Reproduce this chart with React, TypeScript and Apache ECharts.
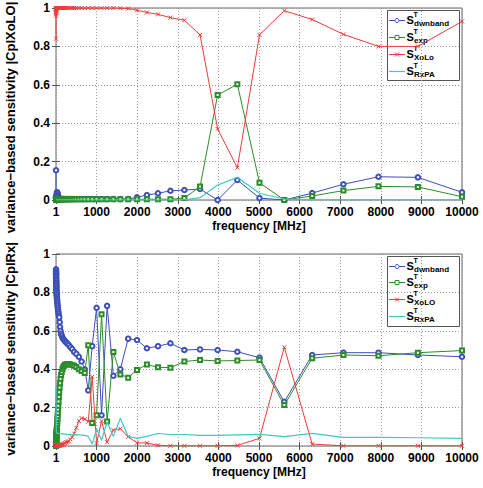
import React, { useEffect, useRef } from "react";
import * as echarts from "echarts";

// Frequencies [MHz] of the sweep
const freq = [
  1, 1.122, 1.259, 1.413, 1.585, 1.778, 1.995, 2.239, 2.512, 2.818,
  3.162, 3.548, 3.981, 4.467, 5.012, 5.623, 6.31, 7.079, 7.943, 8.913,
  10, 11.22, 12.59, 14.13, 15.85, 17.78, 19.95, 22.39, 25.12, 28.18,
  31.62, 35.48, 39.81, 44.67, 50.12, 56.23, 63.1, 70.79, 79.43, 89.13,
  100, 112.2, 125.9, 141.3, 158.5, 177.8, 199.5, 223.9, 251.2, 281.8,
  316.2, 354.8, 398.1, 446.7, 501.2, 562.3, 631, 707.9, 794.3, 891.3,
  1000, 1122, 1259, 1413, 1585, 1778, 1995, 2239, 2512, 2818,
  3162, 3548, 3981, 4467, 5012, 5623, 6310, 7079, 7943, 8913,
  10000,
];

// ---- Top panel: |CplXoLO|
const topDwnband = [
  0.155, 0.02, 0.015, 0.012, 0.012, 0.011, 0.011, 0.01, 0.01, 0.01,
  0.01, 0.01, 0.01, 0.01, 0.01, 0.01, 0.01, 0.01, 0.01, 0.01,
  0.01, 0.01, 0.012, 0.015, 0.02, 0.025, 0.03, 0.04, 0.035, 0.04,
  0.032, 0.036, 0.028, 0.026, 0.02, 0.015, 0.012, 0.01, 0.008, 0.007,
  0.006, 0.006, 0.005, 0.005, 0.005, 0.005, 0.005, 0.005, 0.005, 0.005,
  0.005, 0.005, 0.005, 0.005, 0.005, 0.005, 0.005, 0.005, 0.005, 0.005,
  0.005, 0.005, 0.005, 0.005, 0.005, 0.005, 0.014, 0.026, 0.035, 0.048,
  0.052, 0.057, 0.0, 0.104, 0.01, 0.0, 0.036, 0.082, 0.121, 0.118,
  0.04,
];
const topExp = [
  0.004, 0.004, 0.004, 0.004, 0.004, 0.004, 0.004, 0.004, 0.004, 0.004,
  0.004, 0.004, 0.004, 0.004, 0.004, 0.004, 0.004, 0.004, 0.004, 0.004,
  0.004, 0.004, 0.004, 0.004, 0.004, 0.004, 0.004, 0.004, 0.004, 0.004,
  0.004, 0.004, 0.004, 0.004, 0.004, 0.004, 0.004, 0.004, 0.004, 0.004,
  0.004, 0.004, 0.004, 0.004, 0.004, 0.004, 0.004, 0.004, 0.004, 0.004,
  0.004, 0.004, 0.004, 0.004, 0.004, 0.004, 0.004, 0.004, 0.004, 0.004,
  0.004, 0.004, 0.004, 0.004, 0.004, 0.004, 0.004, 0.004, 0.004, 0.004,
  0.01, 0.07, 0.547, 0.603, 0.09, 0.0, 0.021, 0.049, 0.071, 0.068,
  0.017,
];
const topXoLo = [
  0.84, 0.97, 0.96, 0.98, 0.975, 0.99, 0.985, 0.99, 0.995, 0.995,
  0.997, 0.998, 0.999, 1, 1, 1, 1, 1, 1, 1,
  1, 1, 1, 1, 1, 1, 1, 1, 1, 1,
  1, 1, 1, 1, 1, 1, 1, 1, 1, 1,
  1, 1, 1, 1, 1, 1, 1, 1, 1, 1,
  1, 1, 1, 1, 1, 1, 1, 1, 1, 1,
  1, 1, 1, 1, 0.999, 0.997, 0.988, 0.977, 0.967, 0.95,
  0.936, 0.86, 0.37, 0.168, 0.86, 0.986, 0.94, 0.863, 0.8, 0.8,
  0.93,
];
const topRxPA = [
  0.001, 0.001, 0.001, 0.001, 0.001, 0.001, 0.001, 0.001, 0.001, 0.001,
  0.001, 0.001, 0.001, 0.001, 0.001, 0.001, 0.001, 0.001, 0.001, 0.001,
  0.001, 0.001, 0.001, 0.001, 0.001, 0.001, 0.001, 0.001, 0.001, 0.001,
  0.001, 0.001, 0.001, 0.001, 0.001, 0.001, 0.001, 0.001, 0.001, 0.001,
  0.001, 0.001, 0.001, 0.001, 0.001, 0.001, 0.001, 0.001, 0.001, 0.001,
  0.001, 0.001, 0.001, 0.001, 0.001, 0.001, 0.001, 0.001, 0.001, 0.001,
  0.001, 0.001, 0.001, 0.001, 0.001, 0.001, 0.001, 0.001, 0.001, 0.001,
  0.001, 0.012, 0.078, 0.118, 0.035, 0.005, 0.002, 0.001, 0.001, 0.001,
  0.001,
];

// ---- Bottom panel: |CplRx|
const botDwnband = [
  0.9, 0.91, 0.92, 0.91, 0.9, 0.9, 0.89, 0.89, 0.88, 0.88,
  0.87, 0.87, 0.86, 0.86, 0.85, 0.85, 0.84, 0.84, 0.83, 0.83,
  0.82, 0.81, 0.81, 0.8, 0.79, 0.79, 0.78, 0.77, 0.76, 0.76,
  0.75, 0.74, 0.73, 0.72, 0.71, 0.7, 0.69, 0.68, 0.67, 0.645,
  0.62, 0.6, 0.585, 0.575, 0.565, 0.558, 0.552, 0.545, 0.54, 0.533,
  0.526, 0.515, 0.505, 0.49, 0.48, 0.465, 0.44, 0.4, 0.29, 0.52,
  0.72, 0.16, 0.73, 0.366, 0.4, 0.559, 0.552, 0.509, 0.52, 0.535,
  0.5, 0.503, 0.5, 0.491, 0.46, 0.23, 0.474, 0.486, 0.486, 0.474,
  0.465,
];
const botExp = [
  0.0, 0.002, 0.004, 0.006, 0.008, 0.01, 0.012, 0.014, 0.016, 0.018,
  0.02, 0.022, 0.024, 0.027, 0.03, 0.033, 0.036, 0.04, 0.044, 0.048,
  0.052, 0.057, 0.062, 0.068, 0.074, 0.08, 0.087, 0.095, 0.104, 0.115,
  0.127, 0.14, 0.155, 0.172, 0.19, 0.21, 0.232, 0.255, 0.28, 0.305,
  0.327, 0.35, 0.37, 0.385, 0.4, 0.41, 0.418, 0.423, 0.426, 0.427,
  0.427, 0.425, 0.422, 0.418, 0.412, 0.4, 0.39, 0.38, 0.525, 0.12,
  0.16, 0.686, 0.127, 0.49, 0.373, 0.356, 0.396, 0.425, 0.41, 0.408,
  0.44, 0.448, 0.443, 0.445, 0.448, 0.213, 0.457, 0.474, 0.47, 0.486,
  0.497,
];
const botXoLO = [
  0.003, 0.003, 0.003, 0.003, 0.003, 0.003, 0.003, 0.003, 0.003, 0.003,
  0.003, 0.003, 0.003, 0.003, 0.003, 0.003, 0.003, 0.003, 0.003, 0.003,
  0.003, 0.003, 0.003, 0.003, 0.003, 0.003, 0.003, 0.003, 0.003, 0.003,
  0.003, 0.003, 0.003, 0.003, 0.003, 0.003, 0.003, 0.003, 0.003, 0.003,
  0.004, 0.005, 0.006, 0.007, 0.008, 0.01, 0.012, 0.015, 0.02, 0.022,
  0.025, 0.035, 0.045, 0.065, 0.095, 0.13, 0.145, 0.14, 0.127, 0.36,
  0.015, 0.13, 0.02, 0.083, 0.09, 0.048, 0.017, 0.015, 0.004, 0.001,
  0.001, 0.001, 0.001, 0.003, 0.04, 0.514, 0.01, 0.001, 0.001, 0.001,
  0.001,
];
const botRxPA = [
  0.31, 0.3, 0.29, 0.28, 0.27, 0.255, 0.24, 0.225, 0.21, 0.195,
  0.18, 0.165, 0.15, 0.135, 0.12, 0.11, 0.1, 0.09, 0.085, 0.08,
  0.075, 0.072, 0.07, 0.069, 0.068, 0.067, 0.067, 0.066, 0.066, 0.066,
  0.066, 0.066, 0.066, 0.066, 0.066, 0.066, 0.066, 0.066, 0.065, 0.065,
  0.065, 0.065, 0.064, 0.064, 0.063, 0.063, 0.062, 0.062, 0.061, 0.061,
  0.06, 0.06, 0.059, 0.059, 0.058, 0.058, 0.057, 0.055, 0.05, 0.01,
  0.09, 0.03, 0.125, 0.05, 0.145, 0.05, 0.04, 0.05, 0.065, 0.06,
  0.06, 0.055, 0.055, 0.058, 0.061, 0.049, 0.066, 0.045, 0.045, 0.043,
  0.04,
];

const xTicks = [1, 1000, 2000, 3000, 4000, 5000, 6000, 7000, 8000, 9000, 10000];
const yTicks = [0, 0.2, 0.4, 0.6, 0.8, 1];
const topLegendSubs = ["dwnband", "exp", "XoLo", "RxPA"];
const botLegendSubs = ["dwnband", "exp", "XoLO", "RxPA"];
const xTitle = "frequency [MHz]";
const topYTitle = "variance\u2212based sensitivity |CplXoLO|";
const botYTitle = "variance\u2212based sensitivity |CplRx|";

const BLUE = "#3d4fb8";
const GREEN = "#2b8c2b";
const RED = "#ee3b3b";
const CYAN = "#3ec9c9";
const COLORS = [BLUE, GREEN, RED, CYAN];
const FONT = "'Liberation Sans', Arial, Helvetica, sans-serif";
const CROSS = "path://M0 0L10 10M10 0L0 10";

const GRID_LEFT = 56;
const GRID_W = 406;
const GRID_H = 192;
const TOP1 = 8;
const TOP2 = 254;

function pairs(ys: number[]) {
  return freq.map((f, i) => [f, ys[i]]);
}

function xAxes(gridIndex: number) {
  const base = {
    gridIndex,
    type: "value" as const,
    min: 0,
    max: 10000,
    interval: 1000,
  };
  return [
    {
      ...base,
      position: "bottom",
      axisLine: { show: false },
      axisTick: { show: true, inside: true, length: 4, lineStyle: { color: "#555" } },
      axisLabel: {
        formatter: (v: number) => (v === 0 ? String(xTicks[0]) : String(v)),
        fontWeight: "bold",
        fontSize: 12,
        fontFamily: FONT,
        color: "#000",
        margin: 6,
      },
      splitLine: { show: true, lineStyle: { type: [1, 2], color: "#9a9a9a", width: 1 } },
      name: xTitle,
      nameLocation: "middle",
      nameGap: 20,
      nameTextStyle: { fontWeight: "bold", fontSize: 12, fontFamily: FONT, color: "#000" },
    },
    {
      ...base,
      position: "top",
      axisLine: { show: false },
      axisTick: { show: true, inside: true, length: 4, lineStyle: { color: "#555" } },
      axisLabel: { show: false },
      splitLine: { show: false },
    },
  ];
}

function yAxes(gridIndex: number) {
  const base = {
    gridIndex,
    type: "value" as const,
    min: yTicks[0],
    max: yTicks[yTicks.length - 1],
    interval: 0.2,
  };
  return [
    {
      ...base,
      position: "left",
      axisLine: { show: false },
      axisTick: { show: true, inside: true, length: 4, lineStyle: { color: "#555" } },
      axisLabel: {
        fontWeight: "bold",
        fontSize: 12,
        fontFamily: FONT,
        color: "#000",
        margin: 6,
        formatter: (v: number) => String(Math.round(v * 10) / 10),
      },
      splitLine: { show: true, lineStyle: { type: [1, 2], color: "#9a9a9a", width: 1 } },
    },
    {
      ...base,
      position: "right",
      axisLine: { show: false },
      axisTick: { show: true, inside: true, length: 4, lineStyle: { color: "#555" } },
      axisLabel: { show: false },
      splitLine: { show: false },
    },
  ];
}

function makeSeries(xi: number, yi: number, data: number[][], idx: number, name: string) {
  const color = COLORS[idx];
  const common: any = {
    type: "line",
    name,
    xAxisIndex: xi,
    yAxisIndex: yi,
    data,
    lineStyle: { color, width: 1 },
    itemStyle: { color },
    z: 2 + idx,
  };
  if (idx === 0) {
    common.symbol = "emptyCircle";
    common.symbolSize = 4.5;
    common.itemStyle = { color, borderColor: color, borderWidth: 1 };
  } else if (idx === 1) {
    common.symbol = "emptyRect";
    common.symbolSize = 4;
    common.itemStyle = { color, borderColor: color, borderWidth: 1 };
  } else if (idx === 2) {
    common.symbol = CROSS;
    common.symbolSize = 4;
    common.itemStyle = { color, borderColor: color, borderWidth: 1 };
  } else {
    common.showSymbol = false;
    common.symbol = "none";
    common.lineStyle = { color, width: 1.2 };
  }
  return common;
}

function legendGraphic(boxTop: number, boxH: number, firstC: number, step: number, subs: string[]) {
  const children: any[] = [
    {
      type: "rect",
      shape: { x: 387.5, y: boxTop + 0.5, width: 72, height: boxH },
      style: { fill: "#fff", stroke: "#555", lineWidth: 1 },
    },
  ];
  subs.forEach((sub, i) => {
    const c = Math.round(firstC + i * step) + 0.5;
    const color = COLORS[i];
    children.push({
      type: "line",
      shape: { x1: 389, y1: c, x2: 405, y2: c },
      style: { stroke: color, lineWidth: i === 3 ? 1.2 : 1 },
    });
    if (i === 0) {
      children.push({
        type: "circle",
        shape: { cx: 397, cy: c, r: 2 },
        style: { fill: "#fff", stroke: color, lineWidth: 1 },
      });
    } else if (i === 1) {
      children.push({
        type: "rect",
        shape: { x: 395, y: c - 2, width: 4, height: 4 },
        style: { fill: "#fff", stroke: color, lineWidth: 1 },
      });
    } else if (i === 2) {
      children.push(
        { type: "line", shape: { x1: 395, y1: c - 2, x2: 399, y2: c + 2 }, style: { stroke: color, lineWidth: 1 } },
        { type: "line", shape: { x1: 399, y1: c - 2, x2: 395, y2: c + 2 }, style: { stroke: color, lineWidth: 1 } }
      );
    }
    children.push(
      {
        type: "text",
        x: 406.5,
        y: c - 1,
        style: { text: "S", font: `bold 11px ${FONT}`, fill: "#000", textAlign: "left", textVerticalAlign: "middle" },
      },
      {
        type: "text",
        x: 413.5,
        y: c - 6.5,
        style: { text: "T", font: `bold 7px ${FONT}`, fill: "#000", textAlign: "left", textVerticalAlign: "middle" },
      },
      {
        type: "text",
        x: 414,
        y: c + 2.5,
        style: { text: sub, font: `bold 8px ${FONT}`, fill: "#000", textAlign: "left", textVerticalAlign: "middle" },
      }
    );
  });
  return { type: "group", z: 100, children };
}

export default function App() {
  const ref = useRef<HTMLDivElement>(null);
  useEffect(() => {
    if (!ref.current) return;
    const chart = echarts.init(ref.current, undefined, { renderer: "svg" });
    const names = ["S_dwnband", "S_exp", "S_XoLo", "S_RxPA"];
    const topData = [topDwnband, topExp, topXoLo, topRxPA];
    const botData = [botDwnband, botExp, botXoLO, botRxPA];
    const series: any[] = [];
    topData.forEach((d, i) => series.push(makeSeries(0, 0, pairs(d), i, "top " + names[i])));
    botData.forEach((d, i) => series.push(makeSeries(2, 2, pairs(d), i, "bottom " + names[i])));

    chart.setOption({
      animation: false,
      backgroundColor: "#fff",
      grid: [
        { left: GRID_LEFT, top: TOP1, width: GRID_W, height: GRID_H, show: true, borderColor: "#666", borderWidth: 1, backgroundColor: "transparent" },
        { left: GRID_LEFT, top: TOP2, width: GRID_W, height: GRID_H, show: true, borderColor: "#666", borderWidth: 1, backgroundColor: "transparent" },
      ],
      xAxis: [...xAxes(0), ...xAxes(1)],
      yAxis: [...yAxes(0), ...yAxes(1)],
      series,
      graphic: [
        {
          type: "text",
          x: 10,
          y: 117.5,
          rotation: Math.PI / 2,
          style: { text: topYTitle, font: `bold 13px ${FONT}`, fill: "#000", textAlign: "center", textVerticalAlign: "middle" },
        },
        {
          type: "text",
          x: 10,
          y: 349,
          rotation: Math.PI / 2,
          style: { text: botYTitle, font: `bold 13px ${FONT}`, fill: "#000", textAlign: "center", textVerticalAlign: "middle" },
        },
        legendGraphic(10, 70, 20, 17, topLegendSubs),
        legendGraphic(256, 70, 265.7, 16.7, botLegendSubs),
      ],
    });
    return () => chart.dispose();
  }, []);
  return (
    <div
      ref={ref}
      style={{ position: "fixed", left: 0, top: 0, width: 483, height: 488, background: "#fff" }}
    />
  );
}
